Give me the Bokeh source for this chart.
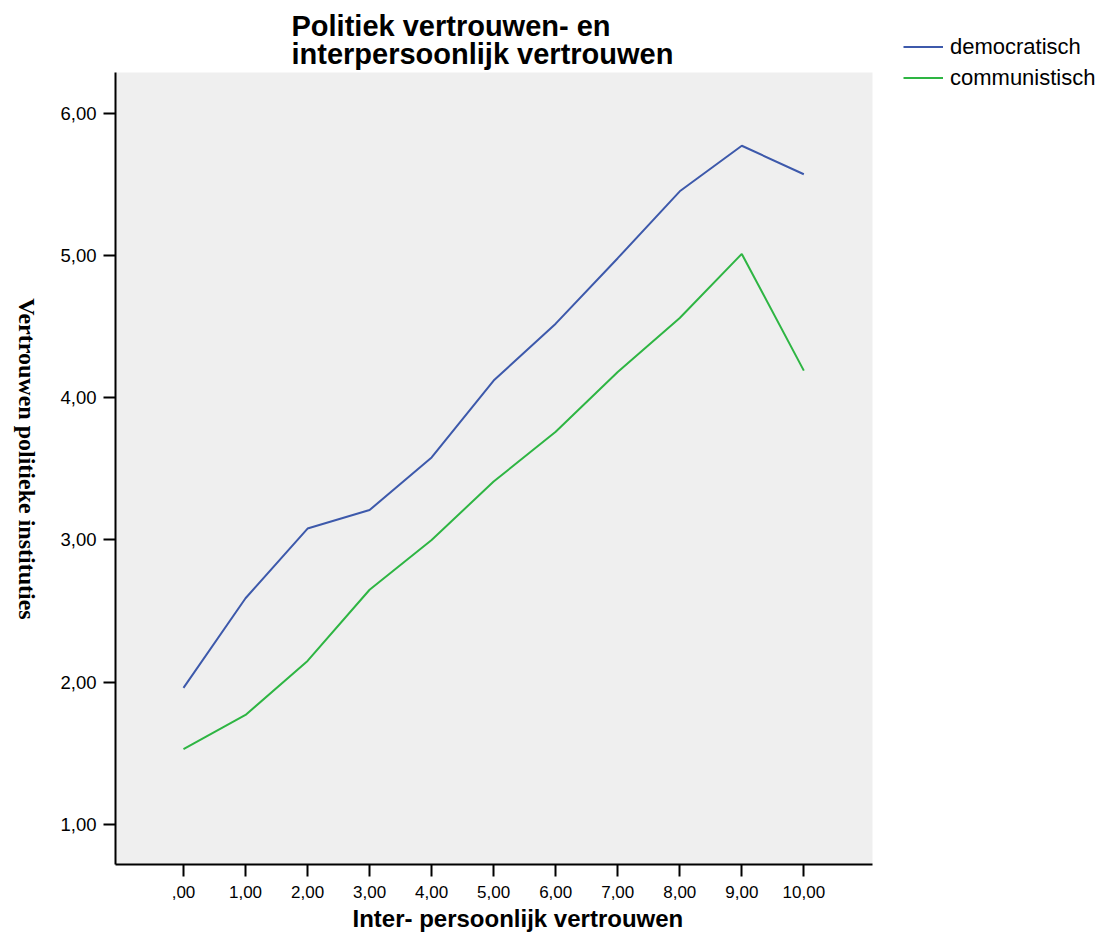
import math
from bokeh.plotting import figure
from bokeh.layouts import row
from bokeh.models import FixedTicker, Label, Legend, LegendItem, BoxAnnotation, Title
from bokeh.embed import file_html
from bokeh.resources import INLINE

# Data
trust_x = [0, 1, 2, 3, 4, 5, 6, 7, 8, 9, 10]
democratisch = [1.96, 2.59, 3.08, 3.21, 3.58, 4.12, 4.52, 4.98, 5.45, 5.77, 5.57]
communistisch = [1.53, 1.77, 2.15, 2.65, 3.00, 3.41, 3.76, 4.18, 4.56, 5.01, 4.19]

x_ticks = [0, 1, 2, 3, 4, 5, 6, 7, 8, 9, 10]
x_tick_labels = [",00", "1,00", "2,00", "3,00", "4,00", "5,00", "6,00", "7,00", "8,00", "9,00", "10,00"]
y_ticks = [1, 2, 3, 4, 5, 6]
y_tick_labels = ["1,00", "2,00", "3,00", "4,00", "5,00", "6,00"]

title_lines = ["Politiek vertrouwen- en", "interpersoonlijk vertrouwen"]
x_title = "Inter- persoonlijk vertrouwen"
y_title = "Vertrouwen politieke instituties"

BLUE = "#3d59ab"
GREEN = "#2eb543"
SANS = "Liberation Sans"

# visible plotting area (grey box) in data units
x_lo, x_hi = -1.096, 11.107
y_lo, y_hi = 0.719, 6.285

# canvas layout (px); the frame is stretched up and right so that the
# title and legend can sit inside it without being clipped
W, H = 1110, 940
strip = 50            # narrow strip on the left holding the y axis title
left, bottom = 115, 864
box_right, box_top = 872, 72
x_end = x_lo + (x_hi - x_lo) * (W - left) / (box_right - left)
y_end = y_lo + (y_hi - y_lo) * bottom / (bottom - box_top)

# --- y axis title strip (its frame gets aligned with the main frame by row())
ylab = figure(width=strip, height=H, x_range=(0, 1), y_range=(0, 1),
              x_axis_location=None, y_axis_location=None,
              output_backend="svg", toolbar_location=None, min_border=0)
ylab.outline_line_color = None
ylab.grid.visible = False
ylab.add_layout(Label(x=26, y=bottom - 458.5, x_units="screen", y_units="screen", text=y_title,
                      angle=-math.pi / 2, text_font="Liberation Serif", text_font_style="bold",
                      text_font_size="24px", text_color="black",
                      text_align="center", text_baseline="middle"))

# --- main chart
p = figure(width=W - strip, height=H, x_range=(x_lo, x_end), y_range=(y_lo, y_end),
           output_backend="svg", toolbar_location=None,
           min_border_left=left - strip, min_border_right=0, min_border_top=0,
           min_border_bottom=H - bottom)

p.background_fill_color = "white"
p.border_fill_color = "white"
p.outline_line_color = None
p.xgrid.visible = False
p.ygrid.visible = False

p.add_layout(BoxAnnotation(left=x_lo, right=x_hi, bottom=y_lo, top=y_hi,
                           fill_color="#efefef", fill_alpha=1, line_color=None,
                           level="underlay"))

for ax in (p.xaxis[0], p.yaxis[0]):
    ax.axis_line_width = 2
    ax.axis_line_color = "black"
    ax.major_tick_line_width = 2
    ax.major_tick_line_color = "black"
    ax.major_tick_in = 0
    ax.major_tick_out = 12
    ax.minor_tick_line_color = None
    ax.major_label_text_font = SANS
    ax.major_label_text_color = "black"

p.xaxis.bounds = (x_lo, x_hi)
p.xaxis.ticker = FixedTicker(ticks=x_ticks)
p.xaxis.major_label_overrides = dict(zip(x_ticks, x_tick_labels))
p.xaxis.major_label_standoff = 9
p.xaxis.major_label_text_font_size = "17px"

p.yaxis.bounds = (y_lo, y_hi)
p.yaxis.ticker = FixedTicker(ticks=y_ticks)
p.yaxis.major_label_overrides = dict(zip(y_ticks, y_tick_labels))
p.yaxis.major_label_standoff = 7
p.yaxis.major_label_text_font_size = "18.5px"

r_dem = p.line(trust_x, democratisch, line_color=BLUE, line_width=2)
r_com = p.line(trust_x, communistisch, line_color=GREEN, line_width=2)

legend = Legend(items=[LegendItem(label="democratisch", renderers=[r_dem]),
                       LegendItem(label="communistisch", renderers=[r_com])],
                location=(788, 771), padding=0, margin=0, spacing=0,
                glyph_width=40, glyph_height=31, label_height=31, label_standoff=7,
                label_text_font=SANS, label_text_font_size="22px",
                label_text_color="black",
                border_line_color=None, background_fill_alpha=0)
p.add_layout(legend)

# Title (two lines)
for line_text, y_pos in zip(title_lines, [839, 811]):
    p.add_layout(Label(x=176, y=y_pos, x_units="screen", y_units="screen", text=line_text,
                       text_font=SANS, text_font_style="bold", text_font_size="29px",
                       text_color="black", text_align="left", text_baseline="alphabetic"))

# x axis title, shifted right of centre as in the original
p.add_layout(Title(text=x_title, align="left", offset=237, standoff=5,
                   text_font=SANS, text_font_style="bold", text_font_size="24px",
                   text_color="black"), "below")

layout = row(ylab, p)
open("out.html", "w").write(file_html(layout, INLINE))
